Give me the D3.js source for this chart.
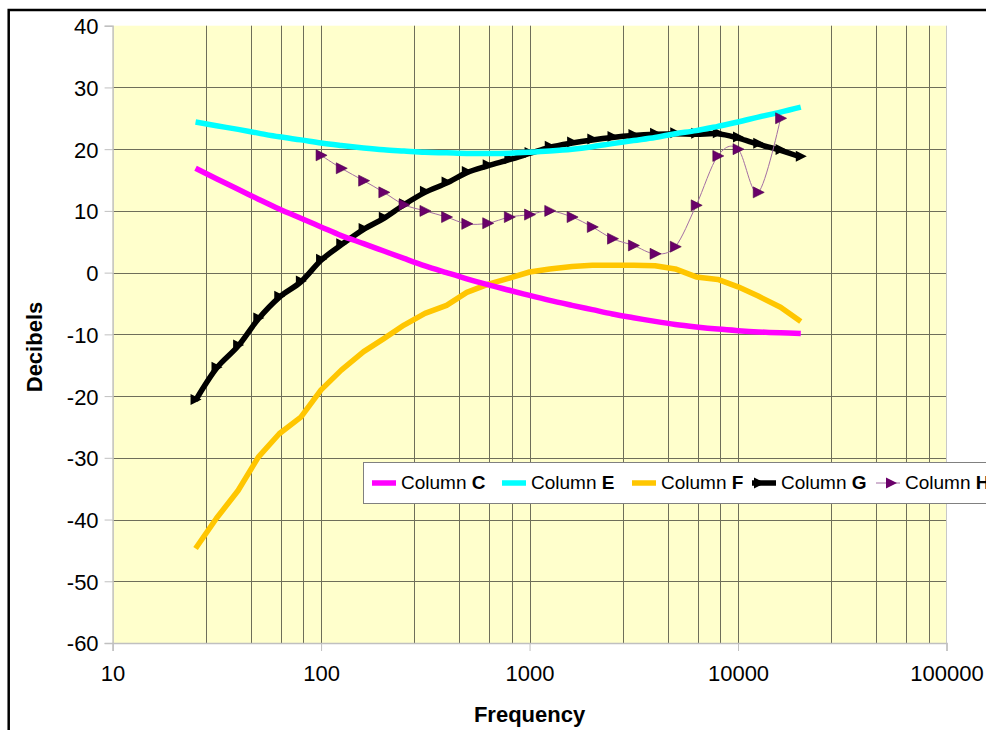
<!DOCTYPE html>
<html>
<head>
<meta charset="utf-8">
<script src="https://cdn.jsdelivr.net/npm/d3@7/dist/d3.min.js"></script>
<style>
  html, body { margin: 0; padding: 0; background: #fff; overflow: hidden; }
  text { font-family: 'Liberation Sans', Arial, sans-serif; }
</style>
</head>
<body>
<div id="chart"></div>
<script>
'use strict';

// third-octave band centres
var freqs = [25, 31.5, 40, 50, 63, 80, 100, 125, 160, 200, 250, 315, 400, 500, 630,
  800, 1000, 1250, 1600, 2000, 2500, 3150, 4000, 5000, 6300, 8000, 10000, 12500, 16000, 20000];

var colC = [16.9, 15.2, 13.5, 11.9, 10.3, 8.8, 7.4, 6.0, 4.7, 3.5, 2.3, 1.1, 0.0, -1.0, -1.95,
  -2.85, -3.7, -4.5, -5.3, -6.0, -6.7, -7.3, -7.9, -8.4, -8.8, -9.15, -9.4, -9.6, -9.75, -9.85];

var colE = [24.4, 23.8, 23.2, 22.6, 22.0, 21.5, 21.0, 20.6, 20.2, 19.9, 19.7, 19.5, 19.4, 19.3, 19.3,
  19.35, 19.5, 19.7, 20.0, 20.4, 20.9, 21.4, 21.9, 22.5, 23.0, 23.7, 24.4, 25.2, 26.0, 26.8];

var colF = [-44.7, -39.8, -35.3, -29.9, -26.1, -23.4, -19.0, -15.8, -12.8, -10.7, -8.5, -6.6, -5.3, -3.2, -1.9,
  -0.9, 0.1, 0.6, 1.0, 1.2, 1.2, 1.2, 1.1, 0.6, -0.7, -1.1, -2.3, -3.8, -5.6, -7.9];

var colG = [-20.7, -15.5, -11.9, -7.5, -4.0, -1.5, 2.0, 4.5, 7.0, 8.8, 11.0, 13.0, 14.5, 16.2, 17.3,
  18.3, 19.3, 20.3, 21.0, 21.5, 21.9, 22.2, 22.4, 22.5, 22.4, 22.5, 21.8, 20.8, 19.8, 18.7];

// column H only runs 100 Hz .. 16 kHz
var freqsH = freqs.slice(6, 29);
var colH = [19.0, 16.9, 14.9, 13.0, 11.0, 10.0, 9.0, 7.9, 8.0, 9.0, 9.4, 10.0, 9.0, 7.4, 5.5,
  4.4, 3.05, 4.2, 10.9, 18.9, 20.0, 13.0, 25.0];

var yTicks = [40, 30, 20, 10, 0, -10, -20, -30, -40, -50, -60];
var xTicks = [10, 100, 1000, 10000, 100000];

var legendNames = ['C', 'E', 'F', 'G', 'H'];

//constants
var width = 986,
  height = 730,
  plotLeft = 112.6,
  plotRight = 946.5,
  plotTop = 25.7,
  plotBottom = 643;

var svg = d3.select('#chart')
  .append('svg')
  .attr('width', width)
  .attr('height', height);

var x = d3.scaleLog().domain([10, 100000]).range([plotLeft, plotRight]);
var y = d3.scaleLinear().domain([-60, 40]).range([plotBottom, plotTop]);

// outer frame, runs off the right/bottom of the window
svg.append('rect')
  .attr('x', 8.7)
  .attr('y', 10)
  .attr('width', 1100)
  .attr('height', 800)
  .attr('fill', '#fff')
  .attr('stroke', '#000')
  .attr('stroke-width', 2.5);

// plot background
svg.append('rect')
  .attr('x', plotLeft)
  .attr('y', plotTop)
  .attr('width', plotRight - plotLeft)
  .attr('height', plotBottom - plotTop)
  .attr('fill', '#ffffcc');

// vertical grid: Excel minor unit 1.8 per decade -> 2.8, 4.6, 6.4, 8.2, 10
var vgrid = [];
[10, 100, 1000, 10000].forEach(function (d) {
  [2.8, 4.6, 6.4, 8.2, 10].forEach(function (m) {
    if (d * m < 100000) { vgrid.push(d * m); }
  });
});

svg.append('g')
  .selectAll('line')
  .data(vgrid)
  .enter()
  .append('line')
  .attr('x1', function (d) { return Math.round(x(d)) + 0.5; })
  .attr('x2', function (d) { return Math.round(x(d)) + 0.5; })
  .attr('y1', plotTop)
  .attr('y2', plotBottom)
  .attr('stroke', '#6e6e5a')
  .attr('stroke-width', 1);

svg.append('g')
  .selectAll('line')
  .data(yTicks.filter(function (d) { return d > -60 && d < 40; }))
  .enter()
  .append('line')
  .attr('x1', plotLeft)
  .attr('x2', plotRight)
  .attr('y1', function (d) { return Math.round(y(d)) + 0.5; })
  .attr('y2', function (d) { return Math.round(y(d)) + 0.5; })
  .attr('stroke', '#6e6e5a')
  .attr('stroke-width', 1);

// right edge of plot
svg.append('line')
  .attr('x1', plotRight).attr('x2', plotRight)
  .attr('y1', plotTop).attr('y2', plotBottom)
  .attr('stroke', '#c8c8c8');

// axes (plain hyphen for negatives, like the original)
var fmt = function (d) { return String(d); };

var yAxis = d3.axisLeft(y)
  .tickValues(yTicks)
  .tickSize(8)
  .tickPadding(6)
  .tickFormat(fmt);

var xAxis = d3.axisBottom(x)
  .tickValues(xTicks)
  .tickSize(8)
  .tickPadding(14)
  .tickFormat(fmt);

var gy = svg.append('g')
  .attr('transform', 'translate(' + plotLeft + ',0)')
  .call(yAxis);

var gx = svg.append('g')
  .attr('transform', 'translate(0,' + plotBottom + ')')
  .call(xAxis);

[gx, gy].forEach(function (g) {
  g.select('.domain').attr('stroke', '#c0c0c0').attr('stroke-width', 1.5);
  g.selectAll('.tick line').attr('stroke', '#c0c0c0');
  g.selectAll('.tick text')
    .attr('fill', '#000')
    .style('font-family', '\'Liberation Sans\', Arial, sans-serif')
    .style('font-size', '22px');
});
gy.selectAll('.tick text').attr('dy', '0.36em');

// axis titles
svg.append('text')
  .attr('x', (plotLeft + plotRight) / 2)
  .attr('y', 722)
  .attr('text-anchor', 'middle')
  .attr('font-size', '22px')
  .attr('font-weight', 'bold')
  .text('Frequency');

svg.append('text')
  .attr('transform', 'translate(42,347) rotate(-90)')
  .attr('text-anchor', 'middle')
  .attr('font-size', '22px')
  .attr('font-weight', 'bold')
  .text('Decibels');

// series
var smooth = d3.line()
  .x(function (d) { return x(d[0]); })
  .y(function (d) { return y(d[1]); })
  .curve(d3.curveCatmullRom.alpha(0));

var straight = d3.line()
  .x(function (d) { return x(d[0]); })
  .y(function (d) { return y(d[1]); });

function pairs(xs, ys) {
  return xs.map(function (f, i) { return [f, ys[i]]; });
}

var triG = 'M-5,-5.5L6,0L-5,5.5Z';
var triH = 'M-5,-5.5L6,0L-5,5.5Z';

// F and G go underneath E and C
svg.append('path')
  .attr('d', straight(pairs(freqs, colF)))
  .attr('fill', 'none')
  .attr('stroke', '#ffc600')
  .attr('stroke-width', 5.5)
  .attr('stroke-linejoin', 'round');

var gG = svg.append('g');
gG.append('path')
  .attr('d', smooth(pairs(freqs, colG)))
  .attr('fill', 'none')
  .attr('stroke', '#000')
  .attr('stroke-width', 5.5)
  .attr('stroke-linejoin', 'round');

gG.selectAll('path.mk')
  .data(pairs(freqs, colG))
  .enter()
  .append('path')
  .attr('class', 'mk')
  .attr('d', triG)
  .attr('fill', '#000')
  .attr('transform', function (d) { return 'translate(' + x(d[0]) + ',' + (y(d[1]) - 1) + ')'; });

svg.append('path')
  .attr('d', smooth(pairs(freqs, colE)))
  .attr('fill', 'none')
  .attr('stroke', '#00ffff')
  .attr('stroke-width', 5.5);

svg.append('path')
  .attr('d', smooth(pairs(freqs, colC)))
  .attr('fill', 'none')
  .attr('stroke', '#ff00ff')
  .attr('stroke-width', 5.5);

var gH = svg.append('g');
gH.append('path')
  .attr('d', smooth(pairs(freqsH, colH)))
  .attr('fill', 'none')
  .attr('stroke', '#a46ea4')
  .attr('stroke-width', 1);

gH.selectAll('path.mk')
  .data(pairs(freqsH, colH))
  .enter()
  .append('path')
  .attr('class', 'mk')
  .attr('d', triH)
  .attr('fill', '#6a006a')
  .attr('stroke', '#4a004a')
  .attr('stroke-width', 0.6)
  .attr('transform', function (d) { return 'translate(' + x(d[0]) + ',' + y(d[1]) + ')'; });

// legend
var legend = svg.append('g');
legend.append('rect')
  .attr('x', 363.5)
  .attr('y', 462.5)
  .attr('width', 700)
  .attr('height', 41)
  .attr('fill', '#fff')
  .attr('stroke', '#808080')
  .attr('stroke-width', 1);

var legendX = [372, 502, 632, 752, 876];
var legendStyle = {
  C: { color: '#ff00ff', w: 5.5 },
  E: { color: '#00ffff', w: 5.5 },
  F: { color: '#ffc600', w: 5.5 },
  G: { color: '#000', w: 5.5, mk: triG, mkFill: '#000', mkX: 7 },
  H: { color: '#a46ea4', w: 1, mk: triH, mkFill: '#6a006a', mkX: 15 }
};

var item = legend.selectAll('g.item')
  .data(legendNames)
  .enter()
  .append('g')
  .attr('class', 'item')
  .attr('transform', function (d, i) { return 'translate(' + legendX[i] + ',483)'; });

item.append('line')
  .attr('x1', 0)
  .attr('x2', 24)
  .attr('stroke', function (d) { return legendStyle[d].color; })
  .attr('stroke-width', function (d) { return legendStyle[d].w; });

item.filter(function (d) { return legendStyle[d].mk; })
  .append('path')
  .attr('d', function (d) { return legendStyle[d].mk; })
  .attr('fill', function (d) { return legendStyle[d].mkFill; })
  .attr('transform', function (d) { return 'translate(' + legendStyle[d].mkX + ',0)'; });

var lt = item.append('text')
  .attr('x', 29)
  .attr('y', 5.5)
  .attr('font-size', '19px');
lt.append('tspan').text('Column ');
lt.append('tspan')
  .attr('font-weight', 'bold')
  .text(function (d) { return d; });
</script>
</body>
</html>
